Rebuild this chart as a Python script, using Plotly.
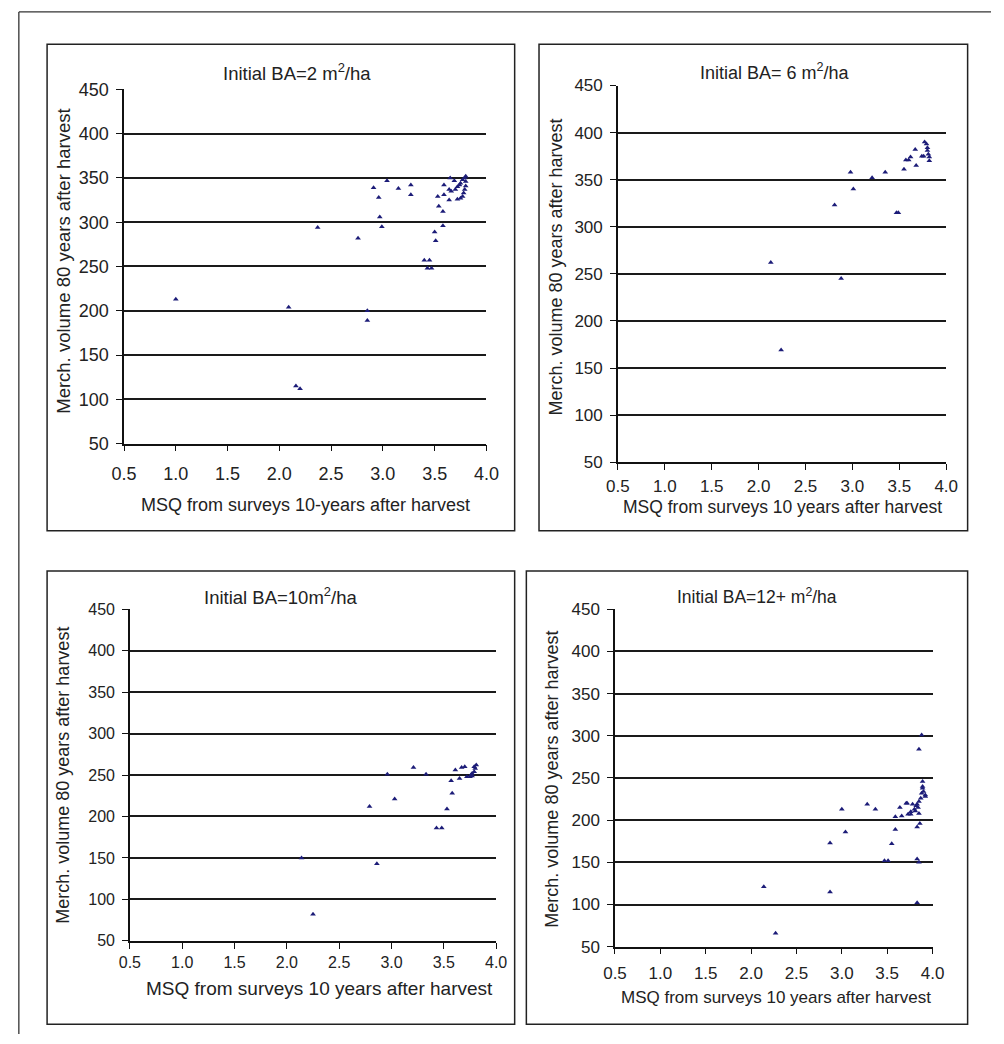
import plotly.graph_objects as go

# ---------------- data ----------------
p1_x = [1.00, 2.09, 2.16, 2.20, 2.37, 2.76, 2.85, 2.85, 2.91, 2.96, 2.97, 2.99, 3.04, 3.15, 3.27,
        3.27, 3.40, 3.45, 3.43, 3.47, 3.50, 3.51, 3.53, 3.54, 3.58, 3.58, 3.59, 3.59, 3.64, 3.64,
        3.65, 3.66, 3.69, 3.70, 3.72, 3.74, 3.75, 3.77, 3.79, 3.80, 3.72, 3.75, 3.77, 3.78, 3.79,
        3.80, 3.80]
p1_y = [213, 204, 115, 112, 294, 282, 200, 189, 339, 328, 306, 295, 347, 338, 342,
        331, 257, 257, 248, 248, 289, 279, 329, 318, 312, 296, 331, 342, 325, 337,
        350, 335, 347, 337, 340, 342, 344, 348, 350, 352, 326, 327, 329, 333, 337,
        341, 346]

p2_x = [2.13, 2.24, 2.81, 2.88, 2.98, 3.01, 3.21, 3.35, 3.47, 3.49, 3.55, 3.57, 3.60, 3.62, 3.67,
        3.68, 3.74, 3.76, 3.77, 3.79, 3.80, 3.81, 3.82, 3.82, 3.80]
p2_y = [262, 169, 323, 245, 358, 340, 352, 358, 315, 315, 361, 371, 371, 374, 382,
        365, 375, 375, 390, 388, 384, 377, 374, 370, 381]

p3_x = [2.14, 2.25, 2.79, 2.86, 2.96, 3.03, 3.21, 3.33, 3.43, 3.48, 3.53, 3.58, 3.57, 3.61, 3.65,
        3.67, 3.70, 3.72, 3.75, 3.76, 3.77, 3.79, 3.80, 3.81, 3.79, 3.77]
p3_y = [150, 82, 212, 143, 251, 221, 259, 251, 186, 186, 209, 228, 243, 256, 246,
        259, 260, 248, 248, 250, 252, 254, 258, 262, 260, 249]

p4_x = [2.14, 2.27, 2.87, 2.87, 3.00, 3.04, 3.28, 3.37, 3.47, 3.51, 3.55, 3.59, 3.59, 3.64, 3.66,
        3.71, 3.72, 3.73, 3.76, 3.83, 3.86, 3.83, 3.85, 3.83, 3.85, 3.80, 3.82, 3.83, 3.85, 3.87,
        3.88, 3.89, 3.89, 3.90, 3.92, 3.92, 3.89, 3.84, 3.81, 3.76, 3.78, 3.88, 3.85]
p4_y = [121, 66, 173, 115, 213, 186, 219, 213, 152, 152, 172, 189, 204, 215, 205,
        220, 220, 207, 207, 192, 196, 154, 150, 102, 208, 213, 217, 219, 222, 226,
        232, 238, 246, 234, 228, 230, 240, 215, 211, 210, 219, 301, 284]

titles = ["Initial BA=2 m<sup>2</sup>/ha", "Initial BA= 6 m<sup>2</sup>/ha",
          "Initial BA=10m<sup>2</sup>/ha", "Initial BA=12+ m<sup>2</sup>/ha"]
x_titles = ["MSQ from surveys 10-years after harvest", "MSQ from surveys 10 years after harvest",
            "MSQ from surveys 10 years after harvest", "MSQ from surveys 10 years after harvest"]
y_title = "Merch. volume 80 years after harvest"
x_ticks = [0.5, 1.0, 1.5, 2.0, 2.5, 3.0, 3.5, 4.0]
x_ticklabels = ["0.5", "1.0", "1.5", "2.0", "2.5", "3.0", "3.5", "4.0"]
y_ticks = [50, 100, 150, 200, 250, 300, 350, 400, 450]

# ---------------- layout helpers ----------------
W, H = 1004, 1044
def fx(px):
    return px / W
def fy(py):
    return 1 - py / H

FONT = "Liberation Sans, Arial, sans-serif"
MARK = "#1c1c78"
TXT = "#222222"

# plot areas in pixels: (left, right, top, bottom)
areas = [(114, 486, 81, 442), (621, 958, 77, 461), (120, 496, 611, 949), (618, 944, 611, 955)]
tick_fs = [18, 17, 16, 17]
xstand = [7, 2, 0, 4]
title_fs = [18.5, 18, 18.5, 17.5]
xtitle_fs = [18, 17.5, 19, 17]
ytitle_fs = [18.5, 18, 18, 18]
title_pos = [(292, 63), (782, 63), (275, 597), (764, 597)]
xtitle_pos = [(300, 505), (790, 507), (315, 998), (783, 1007)]
ytitle_pos = [(51, 256), (557, 262), (51, 780), (553, 784)]
boxes = [(35, 515, 35, 531), (540, 980, 35, 531), (35, 515, 572, 1034), (527, 980, 572, 1034)]

xs = [p1_x, p2_x, p3_x, p4_x]
ys = [p1_y, p2_y, p3_y, p4_y]

fig = go.Figure()
layout = dict(width=W, height=H, margin=dict(l=0, r=0, t=0, b=0),
              paper_bgcolor="white", plot_bgcolor="white", showlegend=False,
              font=dict(family=FONT, color="#111111"))
annotations = []
shapes = []

for i in range(4):
    n = "" if i == 0 else str(i + 1)
    fig.add_trace(go.Scatter(x=xs[i], y=ys[i], mode="markers",
                             marker=dict(symbol="triangle-up", size=5, color=MARK,
                                         line=dict(width=0)),
                             xaxis="x" + n, yaxis="y" + n, hoverinfo="x+y"))
    l, r, t, b = areas[i]
    layout["xaxis" + n] = dict(domain=[fx(l), fx(r)], anchor="y" + n, range=[0.5, 4.0],
                               tickvals=x_ticks, ticktext=x_ticklabels,
                               showgrid=False, zeroline=False, showline=True,
                               linecolor="#111111", linewidth=1.5,
                               ticks="outside", ticklen=6, tickwidth=1.3, tickcolor="#111111",
                               ticklabelstandoff=xstand[i],
                               tickfont=dict(size=tick_fs[i], family=FONT, color=TXT))
    layout["yaxis" + n] = dict(domain=[fy(b), fy(t)], anchor="x" + n, range=[50, 450],
                               tickvals=y_ticks, showgrid=True, gridcolor="#1a1a1a",
                               gridwidth=1.5, zeroline=False, showline=True,
                               linecolor="#111111", linewidth=1.5,
                               ticks="outside", ticklen=6, tickwidth=1.3, tickcolor="#111111",
                               ticklabelstandoff=4,
                               tickfont=dict(size=tick_fs[i], family=FONT, color=TXT))
    tx, ty = title_pos[i]
    annotations.append(dict(text=titles[i], x=fx(tx), y=fy(ty), xref="paper", yref="paper",
                            showarrow=False, xanchor="center", yanchor="middle",
                            font=dict(size=title_fs[i], family=FONT, color=TXT)))
    ax_, ay_ = xtitle_pos[i]
    annotations.append(dict(text=x_titles[i], x=fx(ax_), y=fy(ay_), xref="paper", yref="paper",
                            showarrow=False, xanchor="center", yanchor="middle",
                            font=dict(size=xtitle_fs[i], family=FONT, color=TXT)))
    bx, by = ytitle_pos[i]
    annotations.append(dict(text=y_title, x=fx(bx), y=fy(by), xref="paper", yref="paper",
                            showarrow=False, xanchor="center", yanchor="middle", textangle=-90,
                            font=dict(size=ytitle_fs[i], family=FONT, color=TXT)))
    bl, br, bt, bb = boxes[i]
    shapes.append(dict(type="rect", xref="paper", yref="paper",
                       x0=fx(bl), x1=fx(br), y0=fy(bb), y1=fy(bt),
                       line=dict(color="#222222", width=1.5), fillcolor="rgba(0,0,0,0)"))

# outer frame (left and top edges)
shapes.append(dict(type="line", xref="paper", yref="paper", x0=fx(6), x1=fx(6), y0=0, y1=fy(2),
                   line=dict(color="#333333", width=1.3)))
shapes.append(dict(type="line", xref="paper", yref="paper", x0=fx(6), x1=1, y0=fy(2), y1=fy(2),
                   line=dict(color="#333333", width=1.3)))

layout["annotations"] = annotations
layout["shapes"] = shapes
fig.update_layout(**layout)
fig.write_html("out.html")
